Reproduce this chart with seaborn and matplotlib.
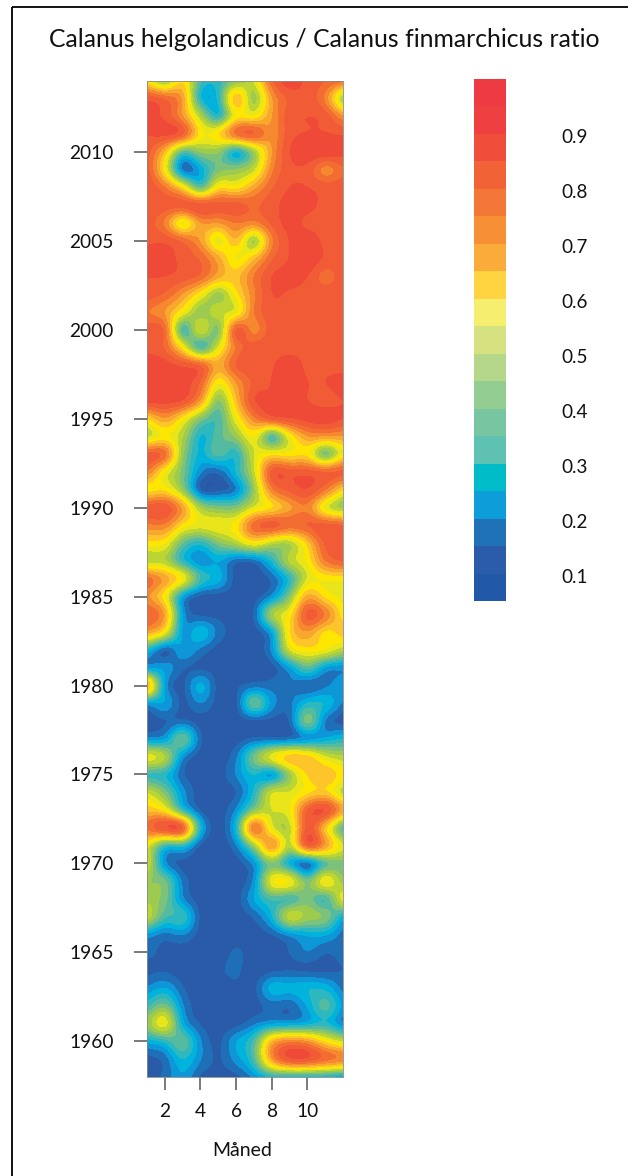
import numpy as np
import pandas as pd
import matplotlib
matplotlib.use("Agg")
import matplotlib.pyplot as plt
from matplotlib.colors import ListedColormap, BoundaryNorm
from matplotlib.lines import Line2D
import seaborn as sns

title = "Calanus helgolandicus / Calanus finmarchicus ratio"
xlabel = "Måned"
months = list(range(1, 13))
years = list(range(1958, 2015))
month_ticks = [2, 4, 6, 8, 10]
year_ticks = [1960, 1965, 1970, 1975, 1980, 1985, 1990, 1995, 2000, 2005, 2010]
levels = [round(0.05 * i, 2) for i in range(1, 21)]
bar_ticks = [0.1, 0.2, 0.3, 0.4, 0.5, 0.6, 0.7, 0.8, 0.9]

# months 1-12, one row per year
ratio_1958_1969 = [
    [.12,.16,.24,.13,.13,.12,.20,.26,.24,.24,.24,.20],
    [.12,.16,.30,.20,.14,.22,.35,.74,.90,.90,.84,.80],
    [.25,.30,.40,.20,.13,.25,.35,.70,.78,.75,.62,.52],
    [.45,.60,.25,.14,.12,.12,.18,.22,.22,.25,.30,.18],
    [.32,.42,.20,.11,.11,.11,.12,.17,.15,.25,.38,.22],
    [.20,.25,.15,.11,.11,.14,.13,.28,.27,.30,.28,.17],
    [.13,.14,.11,.11,.14,.16,.11,.13,.14,.13,.13,.15],
    [.17,.13,.11,.11,.11,.16,.12,.11,.15,.20,.15,.17],
    [.22,.17,.20,.12,.12,.12,.12,.14,.20,.25,.25,.17],
    [.55,.35,.35,.13,.12,.12,.15,.28,.55,.48,.45,.25],
    [.48,.42,.20,.12,.15,.12,.25,.35,.32,.42,.32,.60],
    [.45,.42,.18,.12,.12,.12,.20,.60,.62,.42,.62,.45],
]
ratio_1970_1981 = [
    [.58,.20,.13,.12,.12,.12,.20,.42,.25,.12,.35,.42],
    [.58,.30,.30,.12,.12,.18,.45,.78,.50,.88,.75,.55],
    [.82,.92,.90,.28,.12,.28,.84,.55,.50,.88,.65,.32],
    [.68,.60,.30,.13,.12,.20,.42,.55,.58,.86,.92,.72],
    [.55,.42,.22,.12,.12,.14,.30,.55,.55,.62,.65,.50],
    [.32,.30,.15,.12,.12,.20,.30,.20,.45,.65,.70,.62],
    [.60,.52,.20,.12,.12,.18,.42,.60,.70,.68,.55,.50],
    [.20,.22,.42,.15,.12,.12,.15,.14,.15,.20,.25,.30],
    [.12,.14,.15,.12,.12,.12,.12,.13,.14,.45,.18,.12],
    [.20,.25,.13,.20,.12,.12,.42,.22,.18,.30,.30,.18],
    [.80,.22,.13,.28,.12,.14,.16,.17,.20,.14,.18,.25],
    [.20,.24,.15,.13,.12,.12,.12,.12,.22,.38,.22,.20],
]
ratio_1982_1993 = [
    [.30,.12,.25,.18,.12,.12,.12,.20,.55,.62,.60,.50],
    [.74,.60,.22,.30,.18,.12,.12,.22,.64,.74,.62,.68],
    [.86,.74,.22,.13,.13,.12,.14,.50,.60,.88,.80,.60],
    [.76,.60,.22,.12,.12,.12,.12,.20,.42,.72,.62,.58],
    [.84,.74,.62,.35,.28,.12,.12,.15,.30,.55,.60,.60],
    [.50,.50,.30,.20,.25,.15,.15,.30,.52,.60,.80,.86],
    [.62,.60,.38,.30,.42,.50,.60,.50,.48,.65,.86,.88],
    [.78,.78,.62,.58,.60,.62,.84,.89,.84,.86,.88,.86],
    [.88,.90,.74,.48,.42,.42,.55,.62,.72,.78,.55,.45],
    [.60,.62,.45,.12,.12,.18,.45,.78,.86,.90,.80,.62],
    [.80,.58,.42,.20,.15,.30,.52,.88,.88,.88,.86,.88],
    [.88,.84,.45,.28,.38,.30,.55,.62,.60,.62,.38,.60],
]
ratio_1994_2005 = [
    [.50,.60,.50,.28,.38,.45,.60,.32,.58,.74,.74,.74],
    [.62,.74,.60,.42,.35,.58,.78,.88,.90,.92,.94,.90],
    [.92,.92,.90,.74,.42,.68,.90,.90,.90,.90,.86,.90],
    [.92,.92,.92,.84,.58,.74,.86,.90,.94,.90,.90,.94],
    [.94,.92,.89,.86,.72,.86,.89,.89,.94,.88,.88,.86],
    [.88,.84,.60,.32,.55,.80,.88,.88,.87,.88,.88,.86],
    [.88,.84,.32,.58,.40,.88,.76,.88,.88,.86,.86,.90],
    [.80,.74,.60,.45,.55,.55,.80,.88,.88,.87,.88,.88],
    [.88,.84,.74,.60,.45,.62,.78,.90,.89,.88,.88,.88],
    [.90,.90,.88,.84,.72,.68,.80,.90,.92,.90,.82,.88],
    [.92,.92,.88,.84,.72,.58,.68,.84,.90,.94,.89,.88],
    [.89,.89,.84,.74,.55,.70,.45,.78,.90,.94,.88,.88],
]
ratio_2006_2014 = [
    [.88,.78,.55,.74,.74,.80,.78,.86,.92,.88,.87,.88],
    [.90,.88,.89,.90,.88,.88,.84,.88,.92,.92,.88,.88],
    [.90,.80,.62,.35,.62,.60,.72,.84,.90,.90,.88,.88],
    [.88,.60,.15,.25,.42,.45,.52,.78,.88,.88,.76,.84],
    [.88,.68,.35,.45,.45,.25,.45,.74,.90,.94,.94,.92],
    [.90,.92,.88,.62,.65,.84,.88,.76,.88,.90,.90,.89],
    [.92,.88,.74,.50,.28,.60,.58,.74,.88,.90,.88,.74],
    [.89,.84,.74,.28,.30,.72,.45,.74,.86,.88,.78,.45],
    [.60,.40,.65,.35,.32,.42,.55,.84,.94,.88,.86,.84],
]

map_colors = ["#2458A8", "#2A5BA8", "#1F6FB8", "#0E97D8", "#00B3DC", "#2DB8C0",
              "#55BBA0", "#7CC27A", "#9CCB50", "#BBD634", "#E8E61A", "#FFE600",
              "#FDC52A", "#F9A82E", "#F6882F", "#F36C32", "#F15B35", "#EF4A38", "#EE3A3E"]
bar_colors = ["#2158A8", "#2A5CAA", "#1F71B8", "#0D9DD9", "#00BCC9", "#5FC1B2",
              "#78C5A2", "#94CD91", "#B4D78A", "#D6E17F", "#F5EE6E", "#FFD440",
              "#FBAB3A", "#F79034", "#F37736", "#F16336", "#EF4F3A", "#EE4040", "#EE3A43"]

ratio = np.array(ratio_1958_1969 + ratio_1970_1981 + ratio_1982_1993
                 + ratio_1994_2005 + ratio_2006_2014)


def resample(a, axis, step):
    """Catmull-Rom resampling along one axis, for smooth contour outlines."""
    a = np.moveaxis(a, axis, 0)
    p = np.concatenate([2 * a[:1] - a[1:2], a, 2 * a[-1:] - a[-2:-1]])
    pos = np.linspace(0, a.shape[0] - 1, (a.shape[0] - 1) * step + 1)
    i = np.minimum(pos.astype(int), a.shape[0] - 2)
    t = (pos - i)[:, None]
    p0, p1, p2, p3 = p[i], p[i + 1], p[i + 2], p[i + 3]
    out = 0.5 * (2 * p1 + (p2 - p0) * t + (2 * p0 - 5 * p1 + 4 * p2 - p3) * t ** 2
                 + (3 * p1 - p0 - 3 * p2 + p3) * t ** 3)
    return np.moveaxis(out, 0, axis)


def soften(a, axis, width):
    """Light blur of the resampled surface along one axis."""
    k = np.exp(-0.5 * (np.arange(-3 * width, 3 * width + 1) / width) ** 2)
    k /= k.sum()
    pad = 3 * width
    pad_spec = [(0, 0)] * a.ndim
    pad_spec[axis] = (pad, pad)
    b = np.pad(a, pad_spec, mode="edge")
    return np.apply_along_axis(lambda v: np.convolve(v, k, mode="valid"), axis, b)


sns.set_theme(style="white")
plt.rcParams["font.family"] = ["Lato", "DejaVu Sans"]

W, H = 628, 1176
fig = plt.figure(figsize=(W / 100, H / 100), dpi=100, facecolor="white")


def box(l, t, r, b):
    return [l / W, 1 - b / H, (r - l) / W, (b - t) / H]


STEP = 10
Z = resample(resample(ratio, 0, STEP), 1, STEP)
Z = soften(soften(Z, 0, 2), 1, 2)
Z = np.clip(Z, 0.051, 0.999)
xx = np.linspace(months[0], months[-1], Z.shape[1])
yy = np.linspace(years[0], years[-1], Z.shape[0])

map_cmap = ListedColormap(sns.color_palette(map_colors, n_colors=len(map_colors)))
norm = BoundaryNorm(levels, map_cmap.N)

ax = fig.add_axes(box(147, 80.5, 343, 1077))
cs = ax.contourf(xx, yy, Z, levels=levels, cmap=map_cmap, norm=norm)
cs.set_edgecolor("face")
cs.set_linewidth(0.4)
ax.set_xlim(months[0], months[-1])
ax.set_ylim(years[0], years[-1])
ax.set_xticks(month_ticks)
ax.set_xticklabels([str(m) for m in month_ticks])
ax.set_yticks(year_ticks)
ax.set_yticklabels([str(y) for y in year_ticks])
ax.tick_params(axis="both", length=9.4, width=1.1, color="#555555", labelsize=13.8,
               labelcolor="#111111", bottom=True, left=True)
ax.tick_params(axis="y", pad=14.5)
ax.tick_params(axis="x", pad=9.5)
for s in ax.spines.values():
    s.set_linewidth(0.6)
    s.set_color("#8a8a8a")
ax.grid(False)

# colour key, one cell per contour band, highest on top
mids = [(a + b) / 2 for a, b in zip(levels[:-1], levels[1:])]
key = pd.DataFrame({"ratio": mids[::-1]}, index=[f"{m:.3f}" for m in mids[::-1]])
cax = fig.add_axes(box(474, 79, 506, 601))
sns.heatmap(key, ax=cax, cmap=ListedColormap(sns.color_palette(bar_colors, n_colors=len(bar_colors))),
            norm=BoundaryNorm(levels, len(bar_colors)), cbar=False,
            xticklabels=False, yticklabels=False)
cax.yaxis.tick_right()
cax.set_yticks([(levels[-1] - v) / 0.05 + 0.09 for v in bar_ticks])
cax.set_yticklabels([f"{v:.1f}" for v in bar_ticks], rotation=0)
cax.tick_params(axis="y", length=0, pad=40, labelsize=13.6, labelcolor="#111111", right=False)
cax.set_ylabel("")

fig.text(324.5 / W, 1 - 39.5 / H, title, ha="center", va="center", fontsize=17.8, color="#111111")
fig.text(242 / W, 1 - 1151 / H, xlabel, ha="center", va="center", fontsize=14, color="#111111")

# outer frame that runs off the right and bottom of the picture
frame = dict(color="black", linewidth=1.3, transform=fig.transFigure, solid_capstyle="butt")
fig.add_artist(Line2D([12 / W, 12 / W], [0, 1 - 6.5 / H], **frame))
fig.add_artist(Line2D([11.5 / W, 1], [1 - 7 / H, 1 - 7 / H], **frame))

fig.savefig("out.png", dpi=100, facecolor="white")
